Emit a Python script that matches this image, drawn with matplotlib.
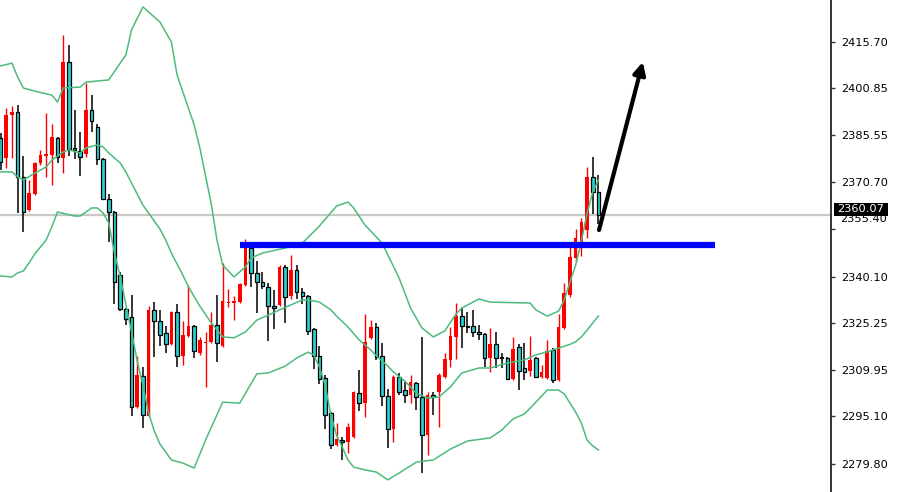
import matplotlib
matplotlib.use('Agg')
import matplotlib.pyplot as plt
import matplotlib.patches as mpatches
import numpy as np

# candle data
opens = [2384.7, 2378.3, 2392.1, 2393.1, 2372.2, 2361.5, 2366.7, 2376.7, 2378.9, 2379.2,
         2384.7, 2378.3, 2409.2, 2381.5, 2380.5, 2379.6, 2393.7, 2388.2, 2378.0, 2365.1,
         2360.9, 2340.5, 2329.7, 2327.1, 2298.1, 2308.1, 2295.2, 2329.4, 2325.8, 2322.0,
         2318.4, 2328.7, 2314.6, 2321.0, 2324.2, 2315.5, 2318.7, 2319.1, 2324.5, 2317.8,
         2331.6, 2331.6, 2331.9, 2337.4, 2349.3, 2341.3, 2338.4, 2336.8, 2330.6, 2331.0,
         2343.2, 2333.9, 2342.2, 2335.2, 2333.9, 2323.2, 2314.6, 2307.5, 2296.2, 2285.9,
         2287.5, 2286.9, 2288.5, 2302.6, 2299.4, 2320.3, 2323.9, 2314.6, 2301.7, 2291.1,
         2307.8, 2303.6, 2302.0, 2305.9, 2301.4, 2289.1, 2302.0, 2303.0, 2307.8, 2313.3,
         2320.7, 2327.4, 2324.2, 2324.2, 2322.3, 2321.6, 2313.9, 2318.4, 2314.2, 2313.9,
         2307.1, 2317.4, 2310.7, 2309.7, 2313.9, 2307.8, 2307.5, 2316.5, 2306.8, 2323.6,
         2334.2, 2346.1, 2350.5, 2355.1, 2372.2, 2367.3]
highs = [2386.3, 2394.4, 2395.0, 2395.3, 2378.9, 2371.2, 2377.0, 2380.9, 2392.8, 2389.2,
         2385.0, 2417.9, 2414.6, 2393.7, 2386.6, 2402.4, 2398.6, 2389.2, 2378.3, 2366.7,
         2361.2, 2341.5, 2330.0, 2334.2, 2314.6, 2311.0, 2330.6, 2331.9, 2329.4, 2324.2,
         2329.0, 2331.3, 2325.8, 2337.4, 2324.5, 2320.7, 2322.3, 2328.7, 2334.2, 2344.5,
         2336.1, 2333.9, 2338.0, 2352.2, 2350.6, 2345.1, 2341.6, 2338.0, 2335.8, 2343.8,
         2343.8, 2347.0, 2343.8, 2336.4, 2334.2, 2323.5, 2317.8, 2308.4, 2296.5, 2293.0,
         2288.5, 2293.0, 2303.3, 2310.1, 2328.1, 2326.1, 2325.2, 2318.7, 2303.9, 2308.4,
         2309.1, 2306.2, 2308.4, 2306.2, 2320.7, 2303.0, 2303.0, 2309.1, 2315.5, 2323.9,
         2331.6, 2330.0, 2328.7, 2329.4, 2324.5, 2322.0, 2323.6, 2322.3, 2315.5, 2314.2,
         2320.7, 2318.4, 2318.7, 2321.0, 2314.2, 2311.7, 2319.7, 2317.1, 2328.1, 2338.0,
         2350.0, 2355.4, 2359.0, 2375.4, 2378.6, 2372.8]
lows = [2374.4, 2375.1, 2378.3, 2360.6, 2354.5, 2361.3, 2366.4, 2376.0, 2372.2, 2369.6,
        2376.7, 2373.4, 2378.9, 2377.9, 2372.5, 2378.6, 2386.6, 2376.0, 2364.8, 2351.2,
        2331.3, 2329.0, 2324.5, 2295.2, 2297.8, 2291.4, 2295.0, 2314.2, 2317.8, 2315.5,
        2318.1, 2311.0, 2311.7, 2320.7, 2313.9, 2314.9, 2304.6, 2318.7, 2312.6, 2317.4,
        2330.3, 2326.1, 2331.6, 2337.1, 2336.7, 2328.4, 2336.1, 2319.4, 2323.2, 2330.5,
        2325.2, 2332.9, 2332.9, 2331.3, 2321.3, 2310.4, 2305.5, 2291.1, 2284.6, 2285.6,
        2281.1, 2283.3, 2288.2, 2296.9, 2294.9, 2320.0, 2313.3, 2298.5, 2284.9, 2286.9,
        2302.0, 2299.4, 2299.4, 2297.2, 2276.9, 2282.7, 2295.6, 2291.7, 2307.5, 2311.0,
        2313.6, 2317.1, 2322.0, 2320.7, 2319.7, 2311.0, 2309.4, 2310.7, 2310.7, 2306.8,
        2306.8, 2303.6, 2306.8, 2308.1, 2307.5, 2307.5, 2307.2, 2305.9, 2306.5, 2323.3,
        2333.5, 2344.8, 2346.7, 2352.5, 2360.2, 2357.0]
closes = [2377.0, 2392.1, 2393.1, 2372.2, 2360.9, 2367.0, 2376.7, 2379.2, 2379.6, 2385.0,
          2378.6, 2409.2, 2381.2, 2380.8, 2378.6, 2393.7, 2390.2, 2378.0, 2365.1, 2360.9,
          2338.4, 2329.7, 2326.5, 2298.1, 2308.4, 2295.6, 2329.4, 2325.8, 2321.3, 2318.4,
          2328.7, 2314.6, 2321.3, 2324.2, 2316.2, 2319.7, 2319.1, 2324.5, 2318.7, 2332.3,
          2331.9, 2332.3, 2337.7, 2349.3, 2341.3, 2338.4, 2337.1, 2330.6, 2330.0, 2343.2,
          2333.5, 2342.2, 2335.2, 2333.9, 2322.6, 2314.6, 2307.1, 2295.6, 2285.9, 2287.8,
          2287.0, 2291.7, 2303.0, 2299.4, 2319.1, 2323.9, 2314.2, 2301.7, 2291.1, 2307.8,
          2303.0, 2302.0, 2306.2, 2301.4, 2289.1, 2302.0, 2301.4, 2308.4, 2313.6, 2321.0,
          2327.4, 2324.2, 2323.9, 2322.3, 2321.6, 2313.9, 2318.4, 2313.9, 2313.9, 2307.1,
          2316.8, 2309.7, 2309.4, 2313.3, 2307.8, 2309.4, 2316.2, 2306.8, 2323.9, 2334.8,
          2346.4, 2352.5, 2357.7, 2372.2, 2367.3, 2360.07]

# bollinger bands, sampled at candle indices
upper_x = [0, 2, 3, 4, 6, 9, 10, 11, 14, 15, 19, 21, 22, 23, 25, 28, 30, 31, 34, 35,
           37, 38, 39, 41, 43, 44, 46, 50, 53, 56, 59, 61, 62, 64, 67, 70, 72, 74, 76, 78,
           80, 81, 84, 86, 93, 94, 96, 98, 99, 100, 101, 102, 103, 104, 105]
upper_y = [2407.9, 2408.8, 2404.3, 2400.8, 2399.8, 2398.5, 2396.3, 2400.8, 2401.1, 2402.7,
           2403.4, 2408.8, 2411.4, 2419.5, 2426.9, 2422.0, 2415.6, 2405.0, 2388.9, 2381.5,
           2363.5, 2351.9, 2343.8, 2340.0, 2343.2, 2346.1, 2347.7, 2349.3, 2350.9, 2356.4,
           2362.8, 2364.1, 2362.2, 2356.7, 2350.9, 2339.6, 2330.0, 2323.6, 2320.7, 2322.6,
           2328.1, 2330.0, 2332.9, 2331.9, 2331.6, 2329.4, 2327.4, 2329.0, 2332.6, 2338.4,
           2343.8, 2351.5, 2360.5, 2367.3, 2371.2]
mid_x = [0, 2, 3, 4, 6, 8, 9, 11, 12, 14, 15, 17, 18, 19, 21, 22, 25, 28, 29, 30,
         32, 33, 35, 37, 39, 41, 43, 45, 47, 49, 51, 53, 55, 56, 58, 59, 61, 63, 65, 66,
         68, 69, 71, 73, 75, 77, 79, 81, 84, 86, 89, 92, 94, 96, 98, 100, 101, 102, 103, 104,
         105]
mid_y = [2373.8, 2373.8, 2372.2, 2371.2, 2373.4, 2375.4, 2377.6, 2380.2, 2380.9, 2379.9,
         2381.5, 2382.5, 2381.8, 2379.9, 2376.7, 2373.8, 2363.1, 2355.4, 2351.9, 2347.7,
         2340.6, 2336.8, 2330.6, 2325.2, 2320.7, 2320.4, 2322.3, 2326.1, 2327.7, 2329.4,
         2331.0, 2332.6, 2332.3, 2331.9, 2329.4, 2327.4, 2323.9, 2319.7, 2316.5, 2314.6,
         2311.3, 2309.4, 2306.5, 2302.6, 2301.0, 2301.4, 2304.6, 2309.1, 2310.7, 2310.7,
         2312.3, 2313.3, 2314.9, 2315.9, 2317.1, 2318.3, 2319.1, 2320.7, 2322.9, 2325.2,
         2327.4]
lower_x = [0, 2, 3, 4, 5, 6, 7, 8, 9, 10, 13, 14, 16, 17, 18, 19, 20, 21, 22, 23,
           24, 25, 26, 27, 28, 30, 32, 34, 36, 39, 42, 45, 47, 50, 52, 54, 55, 56, 57, 58,
           59, 60, 61, 62, 64, 66, 68, 70, 73, 76, 79, 82, 86, 88, 90, 92, 94, 96, 98, 99,
           100, 101, 102, 103, 104, 105]
lower_y = [2340.3, 2340.0, 2341.3, 2341.9, 2344.5, 2347.4, 2349.6, 2351.9, 2356.1, 2360.9,
           2359.6, 2359.6, 2362.2, 2362.2, 2360.6, 2357.4, 2347.7, 2340.2, 2331.3, 2322.3,
           2312.9, 2305.2, 2296.2, 2290.4, 2286.2, 2281.1, 2280.1, 2278.5, 2287.5, 2299.7,
           2299.4, 2308.8, 2309.1, 2311.3, 2313.9, 2315.8, 2314.9, 2311.0, 2305.2, 2295.6,
           2289.1, 2285.3, 2281.1, 2278.8, 2277.9, 2277.2, 2274.7, 2276.9, 2280.4, 2281.1,
           2284.6, 2287.2, 2288.2, 2290.7, 2294.3, 2295.9, 2299.7, 2303.6, 2303.6, 2302.3,
           2299.4, 2296.5, 2293.0, 2287.5, 2285.6, 2284.3]

price_ticks = [2279.80, 2295.10, 2309.95, 2325.25, 2340.10, 2355.40, 2370.70, 2385.55, 2400.85, 2415.70]
last_price = 2360.07
level = 2350.3
level_start, level_end = 42.1, 125.5
arrow_from = (105.1, 2355.1)
arrow_to = (112.8, 2409.2)

o = np.array(opens)
h = np.array(highs)
l = np.array(lows)
c = np.array(closes)
x = np.arange(len(o))
up = c >= o

fig = plt.figure(figsize=(8.97, 4.92), dpi=100)
ax = fig.add_axes([0, 0, 831 / 897, 1])

# wicks
ax.vlines(x[up], l[up], h[up], color='#ff0000', lw=1, zorder=2)
ax.vlines(x[~up], l[~up], h[~up], color='black', lw=1.1, zorder=2)
# bodies
w = 0.64
ax.bar(x[up], np.maximum(c - o, 0.3)[up], bottom=o[up], width=w,
       color='#ff0000', linewidth=0, zorder=3)
ax.bar(x[~up], (o - c)[~up], bottom=c[~up], width=w,
       color='#2ccfcf', edgecolor='black', linewidth=0.9, zorder=3)

# bands
band_col = '#4dbb7c'
for bx, by in [(upper_x, upper_y), (mid_x, mid_y), (lower_x, lower_y)]:
    ax.plot(bx, by, color=band_col, lw=1.1, zorder=4)

# current price line
ax.axhline(last_price, color='#c8c8c8', lw=1.6, zorder=1)

# resistance line
ax.hlines(level, level_start, level_end, color='#0000ff', lw=4.5, zorder=5)

# arrow
ax.annotate('', xy=arrow_to, xytext=arrow_from,
            arrowprops=dict(arrowstyle='-|>', color='black', lw=3,
                            mutation_scale=18, shrinkA=0, shrinkB=0),
            zorder=6)

ax.set_xlim(-0.1, 831 / 5.698)
ax.set_ylim(2270.79, 2429.12)

for s in ['top', 'left', 'bottom']:
    ax.spines[s].set_visible(False)
ax.spines['right'].set_color('#333333')
ax.spines['right'].set_linewidth(1.4)
ax.set_xticks([])
ax.yaxis.tick_right()
ax.set_yticks(price_ticks)
labels = ['%.2f' % t for t in price_ticks]
labels[5] = ''
ax.set_yticklabels(labels)
ax.tick_params(axis='y', direction='out', length=3, width=1, pad=4,
               labelsize=8.2, colors='#333333', labelcolor='black')

# label pushed down under the price box, as on the original
ax.annotate('%.2f' % price_ticks[5], xy=(1, price_ticks[5]),
            xycoords=('axes fraction', 'data'), xytext=(9, 10),
            textcoords='offset pixels', ha='left', va='center',
            fontsize=8.2, color='black', annotation_clip=False)

# last price box, drawn in pixels just above the price line
ax_right = ax.transAxes.transform((1, 0))[0]
py = ax.transData.transform((0, last_price))[1]
box = mpatches.Rectangle((ax_right + 3, py - 1), 54, 12.5, transform=None,
                         facecolor='black', edgecolor='black', lw=0,
                         clip_on=False, zorder=7)
fig.patches.append(box)
fig.text((ax_right + 3 + 27) / fig.bbox.width, (py + 5.2) / fig.bbox.height,
         '%.2f' % last_price, ha='center', va='center', fontsize=8.2,
         color='white', zorder=8)

fig.savefig('out.png', dpi=100)
